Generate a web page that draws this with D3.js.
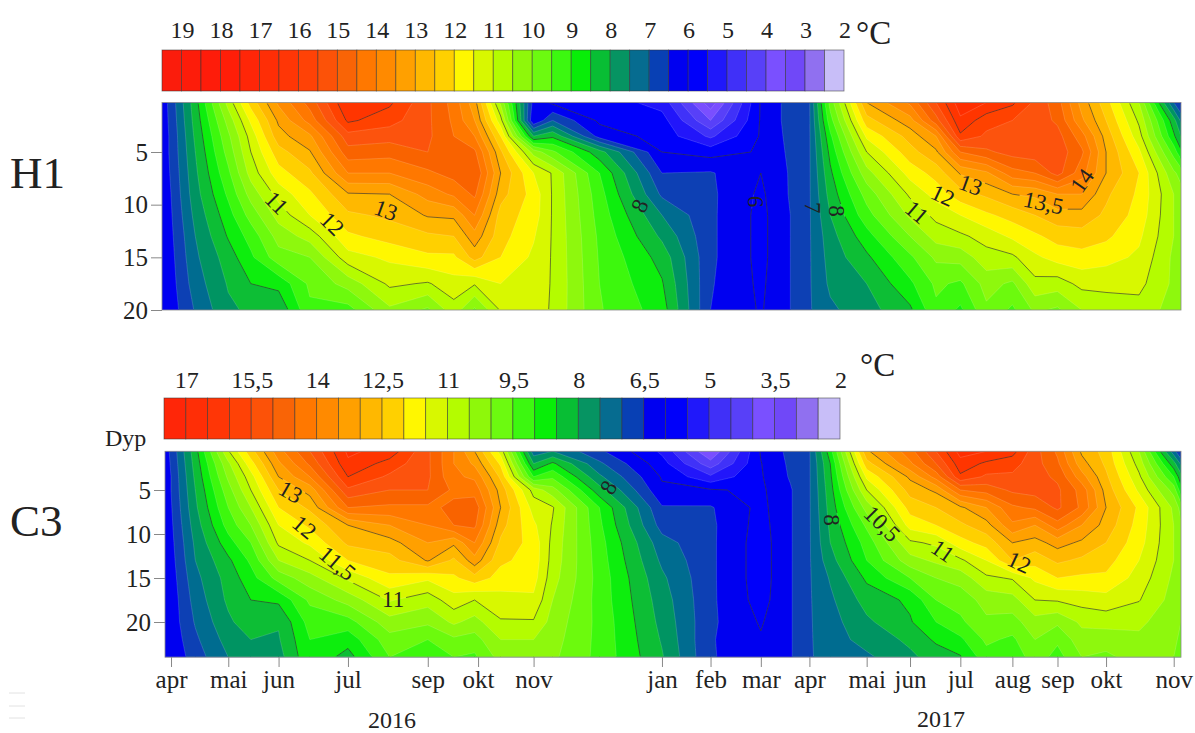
<!DOCTYPE html>
<html>
<head>
<meta charset="utf-8">
<script src="https://cdn.jsdelivr.net/npm/d3@7"></script>
<style>
  html, body { margin: 0; background: #fff; }
  svg { display: block; }
  text { font-family: "Liberation Serif", serif; fill: #222; }
</style>
</head>
<body>
<svg id="chart" width="1195" height="733"></svg>
<script>
// days since the first sampling in april 2016
const sampleDays = [-5.2, 0, 14, 33, 46, 62, 80, 102, 126, 148, 163, 175, 190, 209, 220, 247, 283, 311, 340, 357, 368, 380, 401, 426, 441, 455, 470, 485, 498, 511, 525, 539, 558, 578, 582.2]

const monthLabels = ["apr", "mai", "jun", "jul", "sep", "okt", "nov", "jan", "feb", "mar", "apr", "mai", "jun", "jul", "aug", "sep", "okt", "nov"]
const monthDays = [0, 33, 62, 102, 148, 177, 209, 283, 311, 340, 368, 401, 426, 455, 485, 511, 539, 578]

// colour of each half degree band, warmest first (19.5-19 ... 2.5-2)
const bandColors = [
  "#fb1c0c", "#fd1c0a", "#fe1c0a", "#ff1e08", "#ff2608", "#ff2e06", "#ff3606", "#ff4206", "#fc5208",
  "#f96406", "#ff7800", "#ff8a00", "#ffa000", "#ffb800", "#ffd000", "#fff700", "#d8f800", "#b4fc00",
  "#8ef80a", "#6cfa10", "#3cf810", "#08ee08", "#08be34", "#069462", "#066c90", "#0840b4", "#0000f0",
  "#0000fa", "#2018fa", "#4030f8", "#5840f8", "#7a50ff", "#7048f8", "#9070f0", "#c8bef8",
]

const h1Depths = [0.3, 2, 3.5, 5, 7, 9, 11, 13, 15, 17.5, 20]
// one list per sampling day, surface to bottom
const h1Temps = [
  [6.2, 6.2, 6.2, 6.2, 6.2, 6.2, 6.2, 6.2, 6.2, 6.2, 6.2],
  [6.7, 6.65, 6.6, 6.6, 6.55, 6.5, 6.45, 6.4, 6.35, 6.3, 6.25],
  [8.3, 8.2, 8.1, 8, 7.9, 7.8, 7.65, 7.5, 7.4, 7.25, 7.05],
  [10.7, 10.2, 9.9, 9.7, 9.4, 9.1, 8.8, 8.55, 8.25, 8.05, 7.9],
  [12.2, 11.6, 11.2, 11, 10.7, 10.2, 9.7, 9.2, 8.9, 8.5, 8.1],
  [13.6, 13.1, 12.8, 12.3, 11.8, 11.2, 10.7, 10.2, 9.8, 8.65, 8.1],
  [14.7, 14.2, 13.4, 12.95, 12.4, 11.9, 11.5, 10.7, 10, 9.6, 9.4],
  [16.5, 16.1, 15.3, 14.8, 14, 12.95, 12.4, 11.9, 11.3, 10.2, 9.3],
  [16.1, 15.7, 15.2, 14.7, 14, 13, 12.6, 12.2, 11.6, 11.1, 10.4],
  [15.1, 15.1, 15.1, 15, 14.4, 13.7, 13.05, 12.4, 11.9, 10.95, 9.9],
  [14.3, 14.4, 14.5, 14.6, 14.7, 14.1, 13.1, 12.5, 11.9, 11.3, 10.8],
  [13.2, 13.5, 14, 14.6, 15, 14.6, 14, 13.3, 12.7, 11.05, 9.9],
  [10.4, 11.2, 12, 12.6, 13, 12.7, 12.3, 12.2, 12, 11.5, 11.05],
  [6.3, 6, 8, 10.3, 11.5, 11.8, 11.75, 11.55, 11.4, 11.3, 11.3],
  [5.9, 7, 8.4, 9.6, 10.95, 10.95, 10.95, 10.95, 10.95, 10.95, 10.92],
  [5.8, 5.9, 6.3, 8.2, 9, 9.2, 9.3, 9.4, 9.45, 9.5, 9.55],
  [5.3, 5.7, 5.8, 6, 6.5, 6.9, 7.5, 7.9, 8.3, 8.55, 8.75],
  [3.2, 4, 4.9, 5.8, 6.55, 6.6, 6.6, 6.6, 6.6, 6.55, 6.5],
  [6.05, 6.05, 6.05, 6.05, 6, 5.9, 5.85, 5.85, 5.85, 5.9, 5.95],
  [6.7, 6.7, 6.65, 6.6, 6.55, 6.55, 6.5, 6.5, 6.5, 6.5, 6.5],
  [6.95, 6.95, 6.95, 6.95, 6.95, 6.95, 6.95, 6.95, 6.95, 6.95, 6.95],
  [9.7, 9.3, 8.9, 8.65, 8.4, 8.2, 8, 7.8, 7.7, 7.6, 7.4],
  [13, 12.3, 11.6, 11, 10.3, 9.7, 9.3, 8.8, 8.4, 8, 7.8],
  [14.1, 13.3, 12.7, 12.3, 11.7, 11.1, 10.6, 10, 9.4, 8.9, 8.4],
  [15.5, 14.8, 13.5, 12.9, 12.2, 11.7, 11.15, 10.7, 10.1, 9.6, 9.4],
  [16.8, 16.4, 15.9, 14.5, 13.05, 12.3, 11.5, 10.9, 10.2, 9.4, 8.9],
  [16.5, 15.7, 15.4, 14.9, 13.4, 12.6, 11.9, 11.2, 10.8, 10.2, 9.9],
  [16.1, 15.5, 15.4, 15.2, 14.3, 13, 12.2, 11.6, 10.9, 9.9, 9.4],
  [15.4, 15.3, 15.3, 15.3, 14.5, 13.1, 12.5, 11.9, 11.4, 10.85, 10.1],
  [14.7, 14.9, 15.2, 15.3, 15.2, 13.5, 12.8, 12.2, 11.7, 10.75, 9.9],
  [13.3, 13.6, 14.2, 14.6, 14.2, 13.5, 12.8, 12.3, 11.8, 11.15, 10.5],
  [12.2, 12.5, 12.8, 13, 13, 12.6, 12.4, 12.1, 11.7, 11.1, 10.8],
  [10.5, 10.9, 11.2, 11.6, 12, 11.9, 11.8, 11.6, 11.4, 11.15, 10.8],
  [7, 8.2, 8.6, 9.3, 10.1, 10.5, 10.5, 10.5, 10.4, 10.4, 10.3],
  [6.4, 7.4, 8, 8.6, 9.8, 10.2, 10.3, 10.3, 10.2, 10.2, 10.2],
]

const c3Depths = [0.6, 2, 3.5, 5, 7, 9, 11, 13, 15, 17.5, 20, 22, 24]
const c3Temps = [
  [6.1, 6.1, 6.1, 6.1, 6.1, 6.1, 6.1, 6.1, 6.1, 6.1, 6.1, 6.1, 6.1],
  [6.6, 6.55, 6.5, 6.5, 6.45, 6.4, 6.35, 6.3, 6.25, 6.2, 6.2, 6.15, 6.1],
  [8.3, 8.2, 8.1, 8, 7.9, 7.75, 7.6, 7.5, 7.35, 7.2, 7.05, 6.9, 6.75],
  [10.95, 10.4, 10.1, 9.8, 9.5, 9.2, 8.8, 8.4, 8.2, 8.1, 7.9, 7.7, 7.5],
  [12.3, 11.8, 11.3, 11, 10.5, 10, 9.5, 9.1, 8.8, 8.5, 8.3, 8, 7.9],
  [13.8, 13.4, 13, 12.5, 12, 11.5, 11.1, 10.5, 9.7, 8.6, 8.05, 7.95, 7.8],
  [15, 14.6, 14, 13.2, 12.6, 12.1, 11.6, 11, 10.3, 9.6, 9.2, 9, 8.9],
  [16.6, 16.4, 16, 15.4, 14.5, 13, 12.6, 12, 11.1, 10.2, 9.3, 8.7, 8.3],
  [16.3, 15.8, 15.4, 15, 14.4, 13.5, 12.8, 12.3, 11.9, 11.05, 10.3, 9.8, 9.5],
  [15.1, 15.1, 15.1, 15, 14.4, 14, 13.5, 13.05, 11.6, 10.7, 10.1, 9.5, 9.2],
  [14, 14, 14.1, 14.4, 14.6, 14.5, 13.1, 12.4, 11.9, 11.3, 10.6, 9.9, 9.5],
  [13, 13.4, 13.9, 14.3, 14.8, 14.6, 14, 13.3, 12.3, 11, 10.3, 9.8, 9.4],
  [11.3, 11.9, 12.4, 12.8, 13, 12.7, 12.4, 12.1, 11.8, 11.3, 10.95, 10.5, 10.2],
  [7.2, 8, 9, 10.8, 11.3, 11.6, 11.8, 11.8, 11.7, 11.4, 10.95, 10.5, 10.3],
  [7.5, 8.6, 9.4, 10.2, 11.05, 10.95, 10.85, 10.8, 10.7, 10.5, 10.3, 10.2, 10.1],
  [6.6, 7.1, 7.6, 8.2, 9, 9.1, 9.2, 9.25, 9.3, 9.3, 9.35, 9.35, 9.35],
  [5.4, 5.7, 5.95, 6.1, 6.55, 6.8, 7.2, 7.4, 7.6, 7.75, 7.85, 7.95, 8.05],
  [3.5, 4.2, 5.1, 6.05, 6.55, 6.6, 6.6, 6.6, 6.6, 6.6, 6.6, 6.55, 6.55],
  [6.05, 5.98, 5.95, 5.9, 5.85, 5.8, 5.75, 5.75, 5.75, 5.8, 5.95, 6.05, 6.15],
  [6.65, 6.6, 6.55, 6.45, 6.45, 6.45, 6.45, 6.45, 6.45, 6.45, 6.45, 6.45, 6.45],
  [6.95, 6.95, 6.95, 6.95, 6.95, 6.95, 6.95, 6.95, 6.95, 6.95, 6.95, 6.95, 6.95],
  [8.8, 8.5, 8.4, 8.3, 8.2, 8.1, 8, 7.8, 7.55, 7.4, 7.3, 7.25, 7.2],
  [12.9, 12.3, 11.6, 11, 10.2, 9.6, 9.2, 9, 8.6, 8.2, 7.9, 7.7, 7.4],
  [14.3, 13.9, 13.1, 12.7, 12.2, 11.7, 10.9, 10.3, 9.5, 8.6, 8.45, 8.1, 7.9],
  [15.5, 15, 14.2, 13.1, 12.5, 12, 11.1, 10.6, 10, 9.5, 9, 8.6, 8.2],
  [16.7, 16.3, 15.9, 14.5, 12.9, 12.4, 11.8, 10.9, 10.2, 9.7, 9.4, 8.9, 8.45],
  [16.5, 15.9, 15.4, 14.7, 13.5, 12.8, 12.2, 11.5, 10.9, 10.2, 9.9, 9.6, 9.3],
  [16.2, 15.7, 15.4, 15.1, 14.4, 13.9, 13, 12.5, 11.05, 10.3, 9.8, 9.4, 9.1],
  [15.2, 15.2, 15.2, 15.2, 14.6, 13.5, 12.8, 12.2, 11.6, 11, 10.3, 10, 9.8],
  [14.4, 14.6, 14.9, 15.1, 15.1, 14.3, 13.2, 12.6, 12, 11.05, 10.1, 9.6, 9.3],
  [12.9, 13.2, 13.7, 14.3, 14.4, 13.5, 12.9, 12.4, 11.9, 11.2, 10.6, 10.3, 10],
  [12.3, 12.4, 12.6, 12.8, 13, 12.8, 12.5, 12.2, 11.9, 11.3, 10.7, 10.2, 9.9],
  [10.5, 10.8, 11.1, 11.4, 11.9, 11.8, 11.7, 11.5, 11.3, 11.03, 10.6, 10.4, 10.2],
  [7.2, 8.2, 9, 9.8, 10.4, 10.5, 10.5, 10.5, 10.4, 10.3, 10.2, 10.1, 10],
  [6.4, 7.4, 8.2, 8.7, 9.8, 10.1, 10.2, 10.2, 10.2, 10.1, 10, 9.9, 9.8],
]

// levels drawn with a dark line
const darkLevels = [6, 8.5, 11, 13, 16]

const h1Labels = [
  { text: "11", day: 61, depth: 9.8, angle: 45 },
  { text: "12", day: 93, depth: 11.8, angle: 45 },
  { text: "13", day: 124, depth: 10.5, angle: 20 },
  { text: "8", day: 270, depth: 10.1, angle: -65 },
  { text: "6", day: 337, depth: 9.7, angle: 90 },
  { text: "7", day: 370, depth: 10.3, angle: 90 },
  { text: "8", day: 384, depth: 10.6, angle: 90 },
  { text: "13", day: 461, depth: 8.1, angle: 20 },
  { text: "12", day: 445, depth: 9.1, angle: 25 },
  { text: "11", day: 430, depth: 10.7, angle: 40 },
  { text: "13,5", day: 503, depth: 9.8, angle: 12 },
  { text: "14", day: 525, depth: 7.7, angle: -55 },
]

const c3Labels = [
  { text: "13", day: 69, depth: 5.2, angle: 30 },
  { text: "12", day: 77, depth: 9.2, angle: 40 },
  { text: "11,5", day: 96, depth: 13.3, angle: 40 },
  { text: "11", day: 128, depth: 17.4, angle: 0 },
  { text: "8", day: 252, depth: 4.7, angle: -60 },
  { text: "8", day: 381, depth: 8.4, angle: 90 },
  { text: "10,5", day: 410, depth: 8.8, angle: 45 },
  { text: "11", day: 445, depth: 11.9, angle: 35 },
  { text: "12", day: 489, depth: 13.2, angle: 25 },
]

const svg = d3.select("#chart")
const defs = svg.append("defs")

const x = d3.scaleLinear().domain([-5.2, 582.2]).range([162, 1181])

function bandColor(bottom) {
  return bandColors[Math.round((19 - bottom) / 0.5)]
}

function drawPanel(id, cfg) {
  const y = d3.scaleLinear().domain(cfg.yDomain).range(cfg.yRange)
  const depths = cfg.depths
  const yTop = y(depths[0])
  const yBottom = y(depths[depths.length - 1])
  const left = cfg.left
  const right = x.range()[1]

  // grid index -> pixel, samples sit at index + 0.5 in d3.contours
  const fx = d3.scaleLinear().domain(sampleDays.map((d, i) => i + 0.5)).range(sampleDays.map(x)).clamp(true)
  const fy = d3.scaleLinear().domain(depths.map((d, i) => i + 0.5)).range(depths.map(y)).clamp(true)
  const path = d3.geoPath(d3.geoTransform({
    point(px, py) { this.stream.point(fx(px), fy(py)) },
  }))

  const nx = sampleDays.length
  const ny = depths.length
  const grid = []
  for (let j = 0; j < ny; j++) for (let i = 0; i < nx; i++) grid.push(cfg.temps[i][j])

  const thresholds = d3.range(2, 19.5, 0.5)
  const contours = d3.contours().size([nx, ny]).thresholds(thresholds)

  defs.append("clipPath").attr("id", `${id}-clip`).append("rect")
    .attr("x", left).attr("y", yTop).attr("width", right - left).attr("height", yBottom - yTop)
  defs.append("clipPath").attr("id", `${id}-inner`).append("rect")
    .attr("x", left + 1).attr("y", yTop + 1).attr("width", right - left - 2).attr("height", yBottom - yTop - 2)

  // holes in the dark lines where a label sits
  const mask = defs.append("mask").attr("id", `${id}-mask`)
    .attr("maskUnits", "userSpaceOnUse").attr("x", 0).attr("y", 0).attr("width", 1195).attr("height", 733)
  mask.append("rect").attr("width", 1195).attr("height", 733).attr("fill", "#fff")
  mask.selectAll("rect.hole").data(cfg.labels).join("rect")
    .attr("class", "hole")
    .attr("x", d => -d.text.length * 6 - 1)
    .attr("y", -8)
    .attr("width", d => d.text.length * 12 + 2)
    .attr("height", 16)
    .attr("fill", "#000")
    .attr("transform", d => `translate(${x(d.day)},${y(d.depth)}) rotate(${d.angle})`)

  const g = svg.append("g").attr("id", id)

  const fills = g.append("g").attr("clip-path", `url(#${id}-clip)`).append("g").attr("filter", "url(#soft)")
  fills.selectAll("path").data(contours(grid)).join("path")
    .attr("d", path)
    .attr("fill", d => bandColor(d.value))
    .attr("stroke", "none")

  const lines = g.append("g").attr("clip-path", `url(#${id}-inner)`).attr("fill", "none")
  lines.append("g").selectAll("path").data(contours(grid).slice(1)).join("path")
    .attr("d", path)
    .attr("stroke", "#fff")
    .attr("stroke-opacity", 0.22)
    .attr("stroke-width", 0.7)
  lines.append("g").attr("mask", `url(#${id}-mask)`)
    .selectAll("path").data(darkLevels.map(v => contours.contour(grid, v))).join("path")
    .attr("d", path)
    .attr("stroke", "#1c1c1c")
    .attr("stroke-opacity", 0.72)
    .attr("stroke-width", 0.8)

  g.append("rect")
    .attr("x", left).attr("y", yTop).attr("width", right - left).attr("height", yBottom - yTop)
    .attr("fill", "none").attr("stroke", "#8a8a8a").attr("stroke-width", 0.8)

  g.append("g").selectAll("text").data(cfg.labels).join("text")
    .attr("transform", d => `translate(${x(d.day)},${y(d.depth)}) rotate(${d.angle})`)
    .attr("text-anchor", "middle")
    .attr("dy", "0.35em")
    .attr("font-size", 23)
    .attr("fill", "#111")
    .text(d => d.text)

  const axis = g.append("g")
    .attr("transform", `translate(${left},0)`)
    .call(d3.axisLeft(y).tickValues(cfg.depthTicks).tickSize(11).tickPadding(3))
  axis.select(".domain").remove()
  axis.selectAll("line").attr("stroke", "#888")
  axis.selectAll("text").attr("font-size", 25).attr("font-family", "Liberation Serif").attr("fill", "#222")

  // colour key
  const key = d3.scaleLinear().domain([cfg.keyTop, 2]).range(cfg.keyRange)
  const keyBands = d3.range(cfg.keyTop - 0.5, 1.9, -0.5)
  g.append("g").selectAll("rect").data(keyBands).join("rect")
    .attr("x", d => key(d + 0.5))
    .attr("y", cfg.keyY)
    .attr("width", d => key(d) - key(d + 0.5))
    .attr("height", 41)
    .attr("fill", bandColor)
    .attr("stroke", "#333")
    .attr("stroke-opacity", 0.65)
    .attr("stroke-width", 0.8)
  g.append("g").selectAll("text").data(cfg.keyTicks).join("text")
    .attr("x", d => key(d) + 1)
    .attr("y", cfg.keyLabelY)
    .attr("text-anchor", "middle")
    .attr("font-size", 24)
    .text(d => String(d).replace(".", ","))

  g.append("text").attr("x", cfg.unit[0]).attr("y", cfg.unit[1]).attr("font-size", 33).text("°C")
  g.append("text").attr("x", 10).attr("y", cfg.nameY).attr("font-size", 45).text(cfg.name)
}

const soft = defs.append("filter").attr("id", "soft")
  .attr("x", 0).attr("y", 0).attr("width", 1).attr("height", 1)
soft.append("feGaussianBlur").attr("stdDeviation", 0.7)

drawPanel("h1", {
  name: "H1", nameY: 188,
  depths: h1Depths, temps: h1Temps, labels: h1Labels,
  yDomain: [5, 20], yRange: [152, 310], left: 162,
  depthTicks: [5, 10, 15, 20],
  keyTop: 19.5, keyRange: [162, 844], keyY: 50, keyLabelY: 38, keyTicks: d3.range(19, 1, -1),
  unit: [856, 44],
})

drawPanel("c3", {
  name: "C3", nameY: 536,
  depths: c3Depths, temps: c3Temps, labels: c3Labels,
  yDomain: [5, 20], yRange: [490, 622], left: 165,
  depthTicks: [5, 10, 15, 20],
  keyTop: 17.5, keyRange: [164, 840], keyY: 398, keyLabelY: 388, keyTicks: d3.range(17, 1, -1.5),
  unit: [860, 376],
})

// months under the lower panel
const bottom = svg.append("g")
  .attr("transform", "translate(0,657)")
  .call(d3.axisBottom(x)
    .tickValues(monthDays)
    .tickFormat((d, i) => monthLabels[i])
    .tickSize(10)
    .tickPadding(3))
bottom.select(".domain").remove()
bottom.selectAll("line").attr("stroke", "#888")
bottom.selectAll("text").attr("font-size", 25).attr("font-family", "Liberation Serif").attr("fill", "#222")

svg.append("text").attr("x", 392).attr("y", 728).attr("text-anchor", "middle").attr("font-size", 24).text("2016")
svg.append("text").attr("x", 941).attr("y", 727).attr("text-anchor", "middle").attr("font-size", 24).text("2017")
svg.append("text").attr("x", 105).attr("y", 446).attr("font-size", 24).text("Dyp")

// faint marks in the lower left corner of the page
svg.append("g").selectAll("line").data([693, 706, 718]).join("line")
  .attr("x1", 9).attr("x2", 25).attr("y1", d => d).attr("y2", d => d)
  .attr("stroke", "#e2e2e2")
</script>
</body>
</html>
